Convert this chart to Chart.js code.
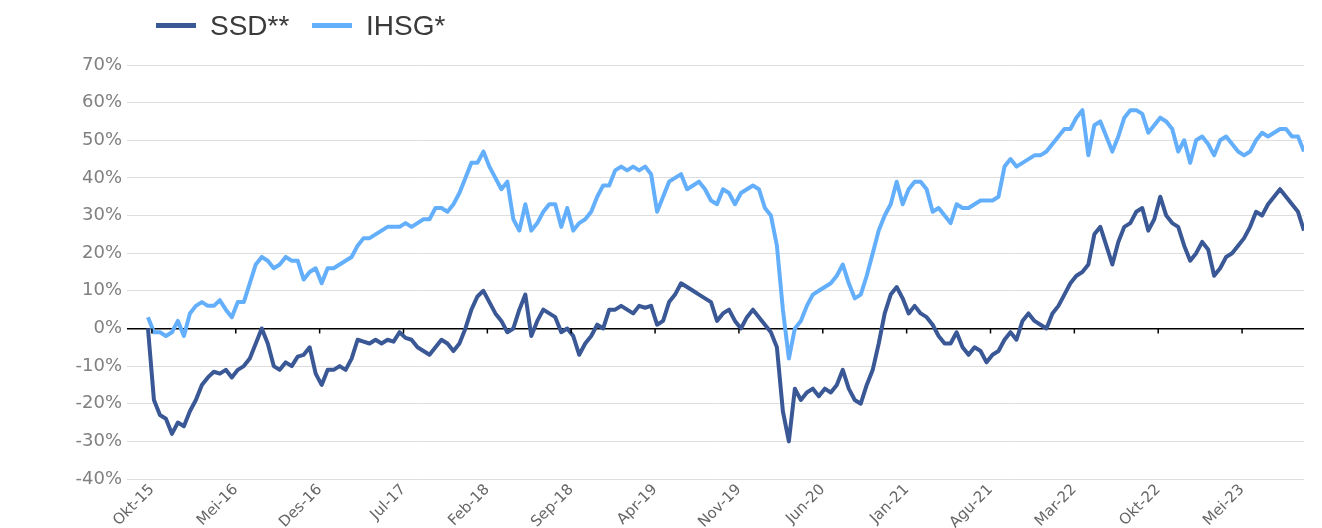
<!DOCTYPE html>
<html>
<head>
<meta charset="utf-8">
<script src="https://cdn.jsdelivr.net/npm/chart.js@4/dist/chart.umd.min.js"></script>
<style>
  html, body { margin: 0; padding: 0; background: #ffffff; }
  #wrap { position: relative; width: 1322px; height: 528px; }
  #legend { position: absolute; left: 0; top: 0; width: 1322px; height: 50px; font-family: "Liberation Sans", Arial, sans-serif; font-size: 28px; color: #3a3a3a; }
  .item { position: absolute; top: 9px; height: 34px; line-height: 34px; white-space: nowrap; }
  .swatch { position: absolute; top: 23px; width: 40px; height: 5px; }
</style>
</head>
<body>
<div id="wrap">
  <canvas id="c" width="1322" height="528"></canvas>
  <div id="legend">
    <div class="swatch" style="left:156px;background:#3A5896"></div>
    <div class="item" style="left:210px">SSD**</div>
    <div class="swatch" style="left:312px;background:#63AFFB"></div>
    <div class="item" style="left:366px">IHSG*</div>
  </div>
</div>
<script>
// Half-monthly observations, starting late Sep 2015
const seriesNames = ["SSD**", "IHSG*"];
const tickLabels = ["Okt-15","Mei-16","Des-16","Jul-17","Feb-18","Sep-18","Apr-19","Nov-19","Jun-20","Jan-21","Agu-21","Mar-22","Okt-22","Mei-23"];
const yTicks = [-40,-30,-20,-10,0,10,20,30,40,50,60,70];

const ssd = [
  0,-19,-23,-24,-28,-25,-26,-22,-19,-15,
  -13,-11.5,-12,-11,-13,-11,-10,-8,-4,0,
  -4,-10,-11,-9,-10,-7.5,-7,-5,-12,-15,
  -11,-11,-10,-11,-8,-3,-3.5,-4,-3,-4,
  -3,-3.5,-1,-2.5,-3,-5,-6,-7,-5,-3,
  -4,-6,-4,0,5,8.5,10,7,4,2,
  -1,0,5,9,-2,2,5,4,3,-1,
  0,-2,-7,-4,-2,1,0,5,5,6,
  5,4,6,5.5,6,1,2,7,9,12,
  11,10,9,8,7,2,4,5,2,0,
  3,5,3,1,-1,-5,-22,-30,-16,-19,
  -17,-16,-18,-16,-17,-15,-11,-16,-19,-20,
  -15,-11,-4,4,9,11,8,4,6,4,
  3,1,-2,-4,-4,-1,-5,-7,-5,-6,
  -9,-7,-6,-3,-1,-3,2,4,2,1,
  0,4,6,9,12,14,15,17,25,27,
  22,17,23,27,28,31,32,26,29,35,
  30,28,27,22,18,20,23,21,14,16,
  19,20,22,24,27,31,30,33,35,37,
  35,33,31,26
];

const ihsg = [
  3,-1,-1,-2,-1,2,-2,4,6,7,
  6,6,7.5,5,3,7,7,12,17,19,
  18,16,17,19,18,18,13,15,16,12,
  16,16,17,18,19,22,24,24,25,26,
  27,27,27,28,27,28,29,29,32,32,
  31,33,36,40,44,44,47,43,40,37,
  39,29,26,33,26,28,31,33,33,27,
  32,26,28,29,31,35,38,38,42,43,
  42,43,42,43,41,31,35,39,40,41,
  37,38,39,37,34,33,37,36,33,36,
  37,38,37,32,30,22,5,-8,0,2,
  6,9,10,11,12,14,17,12,8,9,
  14,20,26,30,33,39,33,37,39,39,
  37,31,32,30,28,33,32,32,33,34,
  34,34,35,43,45,43,44,45,46,46,
  47,49,51,53,53,56,58,46,54,55,
  51,47,51,56,58,58,57,52,54,56,
  55,53,47,50,44,50,51,49,46,50,
  51,49,47,46,47,50,52,51,52,53,
  53,51,51,47
];

const STEP = 0.5;          // months between observations
const TICK_START = 0.33;   // position of first tick label (months)
const TICK_EVERY = 7;      // months between tick labels

const toPts = arr => arr.map((v, i) => ({ x: i * STEP, y: v }));

const zeroTicks = {
  id: 'zeroTicks',
  afterDatasetsDraw(chart) {
    const { ctx, scales: { x, y } } = chart;
    const y0 = y.getPixelForValue(0);
    ctx.save();
    ctx.strokeStyle = '#000';
    ctx.lineWidth = 1.5;
    x.ticks.forEach(t => {
      const px = x.getPixelForValue(t.value);
      ctx.beginPath();
      ctx.moveTo(px, y0);
      ctx.lineTo(px, y0 + 5);
      ctx.stroke();
    });
    ctx.restore();
  }
};

new Chart(document.getElementById('c'), {
  type: 'line',
  data: {
    datasets: [
      { label: seriesNames[0], data: toPts(ssd), borderColor: '#3A5896', backgroundColor: '#3A5896', borderWidth: 4, pointRadius: 0, tension: 0, borderJoinStyle: 'round' },
      { label: seriesNames[1], data: toPts(ihsg), borderColor: '#63AFFB', backgroundColor: '#63AFFB', borderWidth: 4, pointRadius: 0, tension: 0, borderJoinStyle: 'round' }
    ]
  },
  options: {
    responsive: false,
    animation: false,
    layout: { padding: { left: 0, right: 18, top: 65, bottom: 0 } },
    plugins: { legend: { display: false }, tooltip: { enabled: false } },
    scales: {
      x: {
        type: 'linear',
        min: -1.75,
        max: 96.5,
        afterFit(s) { s.height = 49; },
        afterBuildTicks(s) {
          s.ticks = tickLabels.map((_, i) => ({ value: TICK_START + i * TICK_EVERY }));
        },
        grid: { display: false, drawTicks: false },
        border: { display: false },
        ticks: {
          autoSkip: false,
          minRotation: 45,
          maxRotation: 45,
          padding: 2,
          color: '#666666',
          font: { family: 'DejaVu Sans', size: 15 },
          callback(v, i) { return tickLabels[i]; }
        }
      },
      y: {
        min: -40,
        max: 70,
        afterFit(s) { s.width = 127; },
        afterBuildTicks(s) { s.ticks = yTicks.map(v => ({ value: v })); },
        grid: {
          drawTicks: false,
          color: c => c.tick && c.tick.value === 0 ? '#000000' : '#dedede',
          lineWidth: c => c.tick && c.tick.value === 0 ? 1.5 : 1
        },
        border: { display: false },
        ticks: {
          padding: 5,
          color: '#808080',
          font: { family: 'DejaVu Sans', size: 18 },
          callback: v => v + '%'
        }
      }
    }
  },
  plugins: [zeroTicks]
});
</script>
</body>
</html>
